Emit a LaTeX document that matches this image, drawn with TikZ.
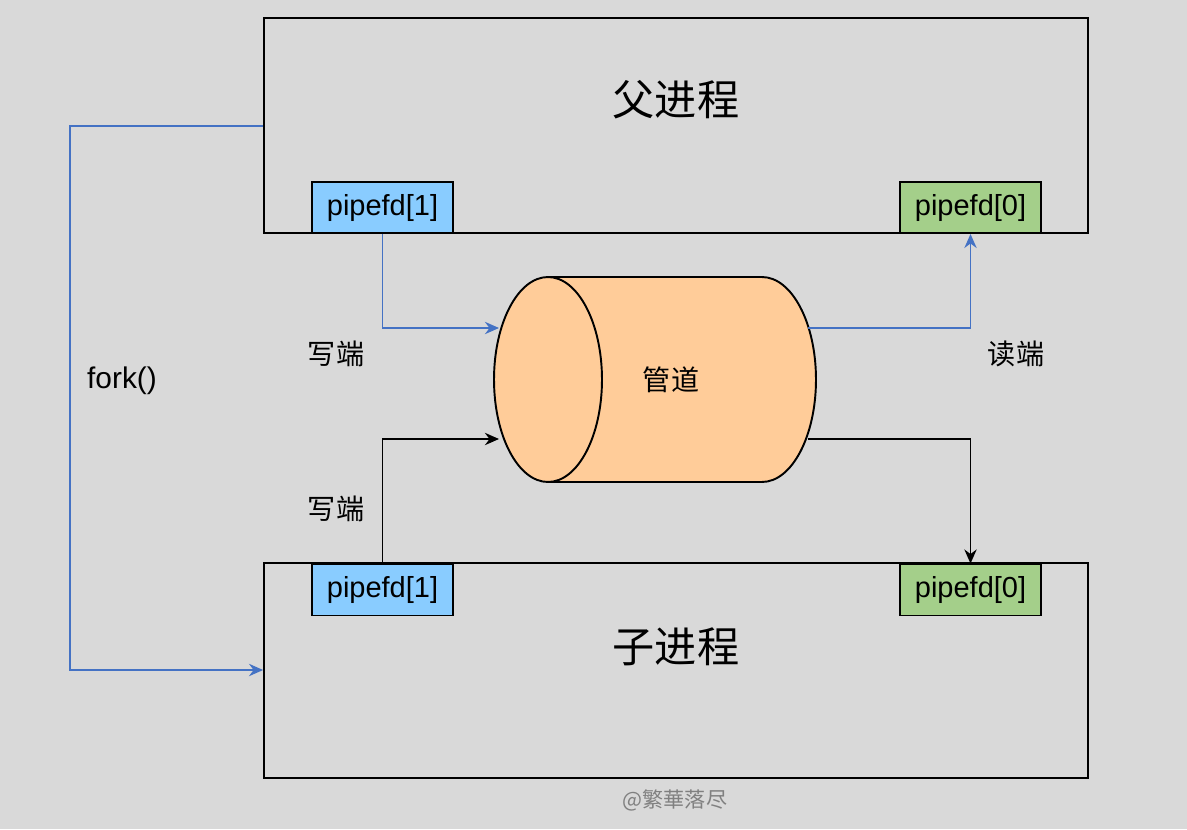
\documentclass[tikz,border=0pt]{standalone}
\usepackage{fontspec}
\setmainfont{Liberation Sans}
\newfontfamily\cjk{Noto Sans CJK SC}
\usetikzlibrary{arrows.meta,shapes.geometric}
\definecolor{bg}{HTML}{D9D9D9}
\definecolor{fdblue}{HTML}{89CCFF}
\definecolor{fdgreen}{HTML}{A4CF8A}
\definecolor{pipe}{HTML}{FFCC99}
\definecolor{link}{HTML}{4472C4}
\begin{document}
\begin{tikzpicture}[x=0.02cm, y=-0.02cm,
  proc/.style={draw, line width=1.1pt, minimum width=16.48cm, minimum height=4.3cm, inner sep=0pt},
  fd/.style={draw, line width=1.1pt, minimum width=2.82cm, minimum height=1.02cm, inner sep=0pt, font=\fontsize{16.5}{20}\selectfont},
  lbl/.style={font=\cjk\fontsize{16}{19}\selectfont},
  conn/.style={line width=1.1pt, -{Stealth[length=8pt,width=7pt]}}
]
\fill[bg] (0,0) rectangle (1187,829);
% processes
\node[proc] (parent) at (676,125.5) {};
\node[font=\cjk\fontsize{24}{28}\selectfont] at (676,100) {父进程};
\node[proc] (child) at (676,670.5) {};
\node[font=\cjk\fontsize{24}{28}\selectfont] at (676,647) {子进程};
\node[fd, fill=fdblue] (pw) at (382.5,207.5) {pipefd[1]};
\node[fd, fill=fdgreen] (pr) at (970.5,207.5) {pipefd[0]};
\node[fd, fill=fdblue] (cw) at (382.5,590) {pipefd[1]};
\node[fd, fill=fdgreen] (cr) at (970.5,590) {pipefd[0]};
% pipe
\node[draw, line width=1.1pt, fill=pipe, ellipse, minimum width=2.16cm, minimum height=4.1cm, inner sep=0pt] (pend) at (762,379.5) {};
\fill[pipe] (548,277) rectangle (762,482);
\draw[line width=1.1pt] (548,277) -- (762,277) (548,482) -- (762,482);
\node[draw, line width=1.1pt, fill=pipe, ellipse, minimum width=2.16cm, minimum height=4.1cm, inner sep=0pt] (pipe) at (548,379.5) {};
\node[lbl] at (671,380) {管道};
\coordinate (in1) at (499,328);
\coordinate (in2) at (499,439);
\coordinate (out1) at (808,328);
\coordinate (out2) at (808,439);
% connectors
\draw[conn, link] (pw.south) |- (in1);
\draw[conn, link] (out1) -| (pr.south);
\draw[conn] (cw.north) |- (in2);
\draw[conn] (out2) -| (cr.north);
\draw[conn, link] (parent.west |- 0,126) -- (70,126) -- (70,670) -- (child.west |- 0,670);
\node[lbl] at (336,354) {写端};
\node[lbl] at (1016,354) {读端};
\node[lbl] at (336,509) {写端};
\node[font=\fontsize{17}{20}\selectfont] at (122,381) {fork()};
\node[font=\cjk\fontsize{12}{14}\selectfont, text=gray] at (675,800) {@繁華落尽};
\end{tikzpicture}
\end{document}
